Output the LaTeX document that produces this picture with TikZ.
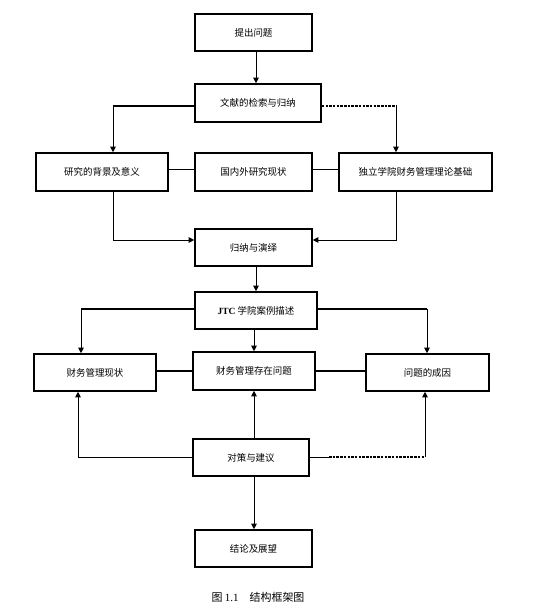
\documentclass[tikz,border=0pt]{standalone}
\usepackage{fontspec}
\setmainfont{Liberation Serif}
\newfontfamily\cjk{Noto Sans CJK SC}
\usetikzlibrary{arrows.meta}
\begin{document}
\begin{tikzpicture}[x=1bp,y=-1bp,
  box/.style={draw,line width=1.6bp,rectangle,minimum height=37bp,inner sep=0pt,font=\cjk\fontsize{9.5}{11}\selectfont},
  arr/.style={-{Triangle[length=5.5bp,width=5.5bp]},line width=0.8bp},
  thin/.style={line width=0.8bp},
  thickline/.style={line width=2.2bp},
  dashline/.style={line width=2.2bp,dash pattern=on 2.5bp off 1.2bp}]
\useasboundingbox[fill=white] (0,0) rectangle (558,613);
% boxes
\node[box,minimum width=117bp] (q) at (253.5,32.5) {提出问题};
\node[box,minimum width=126bp,minimum height=38bp] (lit) at (258,103) {文献的检索与归纳};
\node[box,minimum width=132bp,minimum height=38bp] (bg) at (102,172) {研究的背景及意义};
\node[box,minimum width=117bp,minimum height=38bp] (dom) at (253.5,172) {国内外研究现状};
\node[box,minimum width=153bp,minimum height=38bp] (ind) at (415.5,172) {独立学院财务管理理论基础};
\node[box,minimum width=117bp] (ind2) at (253.5,247.5) {归纳与演绎};
\node[box,minimum width=122bp] (jtc) at (256,310.5) {{\rmfamily\bfseries JTC} 学院案例描述};
\node[box,minimum width=122bp] (fs) at (95,372.5) {财务管理现状};
\node[box,minimum width=122bp,minimum height=38bp] (fp) at (254,371) {财务管理存在问题};
\node[box,minimum width=123bp] (cause) at (427.5,372.5) {问题的成因};
\node[box,minimum width=116bp] (sug) at (251,457.5) {对策与建议};
\node[box,minimum width=117bp] (concl) at (253.5,548.5) {结论及展望};
\node[font=\cjk\fontsize{11}{13}\selectfont] (cap) at (258,597) {图 {\rmfamily 1.1}\quad 结构框架图};
% bend coordinates
\coordinate (a1) at (113,106);
\coordinate (a2) at (396,106);
\coordinate (r1) at (113,169);
\coordinate (b1) at (113,240);
\coordinate (b2) at (396,240);
\coordinate (c1) at (81,309);
\coordinate (c2) at (427,309);
\coordinate (r2) at (254,371);
\coordinate (d1) at (78,457);
\coordinate (d2) at (329,457);
\coordinate (d3) at (425,457);
% connectors
\draw[arr] (q.south -| 256,0) -- (lit.north -| 256,0);
\draw[thickline] (lit.west |- a1) -- (a1);
\draw[arr] (a1) -- (a1 |- bg.north);
\draw[dashline] (lit.east |- a2) -- (a2);
\draw[arr] (a2) -- (a2 |- ind.north);
\draw[thin] (bg.east |- r1) -- (dom.west |- r1);
\draw[thin] (dom.east |- r1) -- (ind.west |- r1);
\draw[arr] (a1 |- bg.south) -- (b1) -- (ind2.west |- b1);
\draw[arr] (a2 |- ind.south) -- (b2) -- (ind2.east |- b2);
\draw[arr] (ind2.south -| 256,0) -- (jtc.north -| 256,0);
\draw[thickline] (jtc.west |- c1) -- (c1);
\draw[arr] (c1) -- (c1 |- fs.north);
\draw[line width=1.3bp] (jtc.east |- c2) -- (c2);
\draw[arr] (c2) -- (c2 |- cause.north);
\draw[arr] (jtc.south -| 254,0) -- (fp.north -| 254,0);
\draw[thickline] (fs.east |- r2) -- (fp.west |- r2);
\draw[thickline] (fp.east |- r2) -- (cause.west |- r2);
\draw[arr] (sug.west |- d1) -- (d1) -- (d1 |- fs.south);
\draw[arr] (sug.north -| 254,0) -- (fp.south -| 254,0);
\draw[thin] (sug.east |- d2) -- (d2);
\draw[dashline] (d2) -- (d3);
\draw[arr] (d3) -- (d3 |- cause.south);
\draw[arr] (sug.south -| 254,0) -- (concl.north -| 254,0);
\end{tikzpicture}
\end{document}
